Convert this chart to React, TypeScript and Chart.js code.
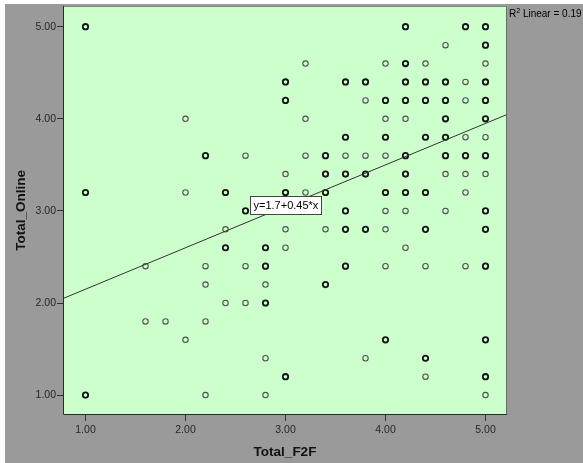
import React, { useEffect, useRef } from 'react';
import { Chart, registerables } from 'chart.js';

Chart.register(...registerables);

const X_TITLE = 'Total_F2F';
const Y_TITLE = 'Total_Online';
const TICK_VALUES = [1, 2, 3, 4, 5];
const X_RANGE = [0.775, 5.215];
const Y_RANGE = [0.784, 5.227];

// rows of Total_Online values, top to bottom
const ROW_Y = [5.0, 4.8, 4.6, 4.4, 4.2, 4.0, 3.8, 3.6, 3.4, 3.2, 3.0, 2.8, 2.6, 2.4, 2.2, 2.0, 1.8, 1.6, 1.4, 1.2, 1.0];

// Total_F2F values per row drawn with a heavy ring (several cases)
const HEAVY_X_BY_ROW = [
  [1.0, 4.2, 4.8, 5.0],
  [5.0],
  [4.2],
  [3.0, 3.6, 3.8, 4.2, 4.4, 4.6, 5.0],
  [3.0, 4.0, 4.2, 4.4, 4.6, 5.0],
  [4.6, 5.0],
  [3.6, 4.0, 4.4, 4.6],
  [2.2, 3.4, 4.2, 4.6, 4.8, 5.0],
  [3.4, 3.6, 3.8, 4.2],
  [1.0, 2.4, 3.0, 3.4, 4.0, 4.2, 4.4],
  [2.6, 3.6, 5.0],
  [3.6, 3.8, 4.4, 5.0],
  [2.4, 2.8],
  [2.8, 3.6, 5.0],
  [3.4],
  [2.8],
  [],
  [4.0, 5.0],
  [4.4],
  [3.0, 5.0],
  [1.0],
];

// Total_F2F values per row drawn with a light ring (single case)
const LIGHT_X_BY_ROW = [
  [],
  [4.6],
  [3.2, 4.0, 4.4, 5.0],
  [4.8],
  [3.8, 4.8],
  [2.0, 3.2, 4.0, 4.2],
  [4.8, 5.0],
  [2.6, 3.2, 3.6, 3.8, 4.0],
  [3.0, 4.6, 4.8, 5.0],
  [2.0, 3.2, 4.8],
  [4.0, 4.2, 4.6],
  [2.4, 3.0, 3.4, 4.0],
  [3.0, 4.2],
  [1.6, 2.2, 2.6, 4.0, 4.4, 4.8],
  [2.2, 2.8],
  [2.4, 2.6],
  [1.6, 1.8, 2.2],
  [2.0],
  [2.8, 3.8],
  [4.4],
  [2.2, 2.8, 5.0],
];

const FIT_INTERCEPT = 1.7;
const FIT_SLOPE = 0.45;
const R2_LINEAR = 0.19;
const EQ_LABEL_AT = [2.645, 3.05];

const FONT = "'Liberation Sans', Arial, sans-serif";

function toPoints(byRow: number[][]) {
  const pts: { x: number; y: number }[] = [];
  byRow.forEach((xs, i) => xs.forEach((x) => pts.push({ x, y: ROW_Y[i] })));
  return pts;
}

const spssPlugin = {
  id: 'spssDecor',
  beforeDraw(chart: any) {
    const { ctx, width, height, chartArea: a } = chart;
    ctx.save();
    ctx.fillStyle = '#ffffff';
    ctx.fillRect(0, 0, width, height);
    ctx.fillStyle = '#9a9a9a';
    ctx.fillRect(5, 4, width - 5, height - 4);
    ctx.fillStyle = '#ccffcc';
    ctx.fillRect(a.left, a.top, a.right - a.left, a.bottom - a.top);
    ctx.restore();
  },
  afterDatasetsDraw(chart: any) {
    const { ctx, chartArea: a, scales } = chart;
    ctx.save();
    // frame
    ctx.lineWidth = 1;
    ctx.strokeStyle = '#6a6a6a';
    ctx.beginPath();
    ctx.moveTo(a.left, a.top + 0.5);
    ctx.lineTo(a.right - 0.5, a.top + 0.5);
    ctx.lineTo(a.right - 0.5, a.bottom);
    ctx.stroke();
    ctx.strokeStyle = '#2a2a2a';
    ctx.beginPath();
    ctx.moveTo(a.left + 0.5, a.top);
    ctx.lineTo(a.left + 0.5, a.bottom - 0.5);
    ctx.lineTo(a.right, a.bottom - 0.5);
    ctx.stroke();

    // equation label
    const text = `y=${FIT_INTERCEPT}+${FIT_SLOPE}*x`;
    const px = Math.round(scales.x.getPixelForValue(EQ_LABEL_AT[0]));
    const py = Math.round(scales.y.getPixelForValue(EQ_LABEL_AT[1]));
    ctx.font = `11px ${FONT}`;
    const tw = ctx.measureText(text).width;
    const w = Math.round(tw + 7);
    const h = 19;
    const top = py - Math.round(h / 2);
    ctx.fillStyle = '#ffffff';
    ctx.fillRect(px, top, w, h);
    ctx.strokeStyle = '#444444';
    ctx.strokeRect(px + 0.5, top + 0.5, w - 1, h - 1);
    ctx.fillStyle = '#000000';
    ctx.textBaseline = 'middle';
    ctx.textAlign = 'left';
    ctx.fillText(text, px + 3.5, top + h / 2 + 0.5);

    // R2 annotation
    const rx = a.right + 2;
    ctx.textBaseline = 'alphabetic';
    ctx.font = `10px ${FONT}`;
    ctx.fillText('R', rx, 16.5);
    const rw = ctx.measureText('R').width;
    ctx.font = `7px ${FONT}`;
    ctx.fillText('2', rx + rw, 12.5);
    const sw = ctx.measureText('2').width;
    ctx.font = `10px ${FONT}`;
    ctx.fillText(` Linear = ${R2_LINEAR}`, rx + rw + sw, 16.5);
    ctx.restore();
  },
};

export default function App() {
  const ref = useRef<HTMLCanvasElement | null>(null);

  useEffect(() => {
    if (!ref.current) return;
    const fitX = [X_RANGE[0], X_RANGE[1]];
    const chart = new Chart(ref.current, {
      type: 'scatter',
      data: {
        datasets: [
          {
            label: 'Fit',
            data: fitX.map((x) => ({ x, y: FIT_INTERCEPT + FIT_SLOPE * x })),
            showLine: true,
            borderColor: '#333333',
            borderWidth: 1,
            pointRadius: 0,
            order: 0,
          } as any,
          {
            label: 'heavy',
            data: toPoints(HEAVY_X_BY_ROW),
            pointStyle: 'circle',
            pointRadius: 2.7,
            borderWidth: 1.8,
            borderColor: '#141414',
            backgroundColor: 'rgba(0,0,0,0)',
            order: 1,
          },
          {
            label: 'light',
            data: toPoints(LIGHT_X_BY_ROW),
            pointStyle: 'circle',
            pointRadius: 2.7,
            borderWidth: 1.1,
            borderColor: '#505050',
            backgroundColor: 'rgba(0,0,0,0)',
            order: 2,
          },
        ],
      },
      options: {
        animation: false,
        responsive: true,
        maintainAspectRatio: false,
        devicePixelRatio: 1,
        layout: { padding: { left: 0, top: 4, right: 76, bottom: 0 } },
        plugins: {
          legend: { display: false },
          tooltip: { enabled: false },
        },
        scales: {
          x: {
            type: 'linear',
            min: X_RANGE[0],
            max: X_RANGE[1],
            afterBuildTicks: (s: any) => {
              s.ticks = TICK_VALUES.map((v) => ({ value: v }));
            },
            afterFit: (s: any) => {
              s.height = 48;
              s.paddingLeft = 0;
              s.paddingRight = 0;
            },
            ticks: {
              callback: (v: any) => Number(v).toFixed(2),
              font: { family: FONT, size: 10.5 },
              color: '#262626',
              padding: 3,
              maxRotation: 0,
            },
            grid: { drawOnChartArea: false, drawTicks: true, tickLength: 6, color: '#333333' },
            border: { display: false },
            title: {
              display: true,
              text: X_TITLE,
              font: { family: FONT, size: 13.5, weight: 'bold' },
              color: '#111111',
              padding: { top: 0, bottom: 3 },
            },
          },
          y: {
            type: 'linear',
            min: Y_RANGE[0],
            max: Y_RANGE[1],
            afterBuildTicks: (s: any) => {
              s.ticks = TICK_VALUES.map((v) => ({ value: v }));
            },
            afterFit: (s: any) => {
              s.width = 63;
              s.paddingTop = 0;
              s.paddingBottom = 0;
            },
            ticks: {
              callback: (v: any) => Number(v).toFixed(2),
              font: { family: FONT, size: 10.5 },
              color: '#262626',
              padding: 1,
            },
            grid: { drawOnChartArea: false, drawTicks: true, tickLength: 6, color: '#333333' },
            border: { display: false },
            title: {
              display: true,
              text: Y_TITLE,
              font: { family: FONT, size: 13.5, weight: 'bold' },
              color: '#111111',
              padding: { top: 12.9, bottom: 0 },
            },
          },
        },
      } as any,
      plugins: [spssPlugin],
    });
    return () => chart.destroy();
  }, []);

  return (
    <div style={{ position: 'fixed', left: 0, top: 0, width: 583, height: 463 }}>
      <canvas ref={ref} />
    </div>
  );
}
